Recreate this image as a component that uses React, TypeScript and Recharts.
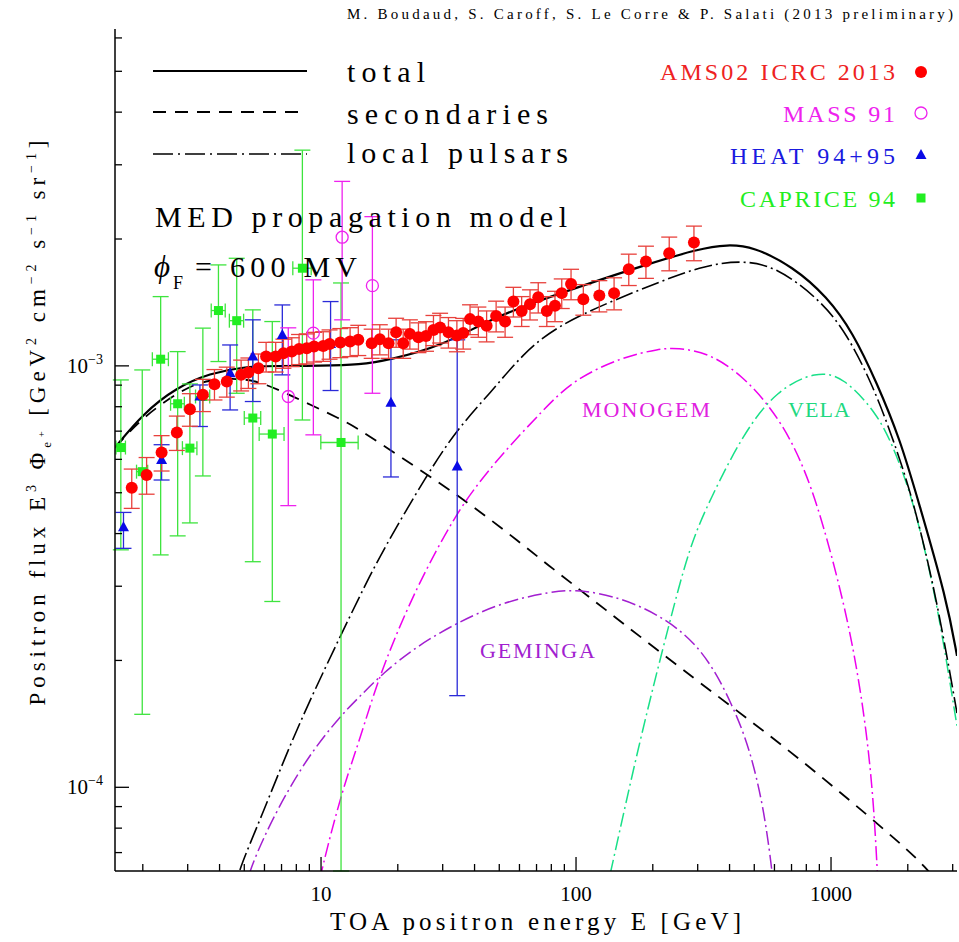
import { ComposedChart, Line, Scatter, XAxis, YAxis, ErrorBar } from "recharts";

const W = 959;
const H = 942;
const serif = "'Liberation Serif', 'Times New Roman', serif";

// axis ranges (GeV, GeV^2 cm^-2 s^-1 sr^-1)
const xDomain = [1.556, 3119];
const yDomain = [6.33e-5, 6.3e-3];
const xTicks = [2, 3, 4, 5, 6, 7, 8, 9, 10, 20, 30, 40, 50, 60, 70, 80, 90, 100, 200, 300, 400, 500, 600, 700, 800, 900, 1000, 2000, 3000];
const xMajor = [10, 100, 1000];
const yTicks = [7e-5, 8e-5, 9e-5, 1e-4, 2e-4, 3e-4, 4e-4, 5e-4, 6e-4, 7e-4, 8e-4, 9e-4, 1e-3, 2e-3, 3e-3, 4e-3, 5e-3, 6e-3];
const yMajor = [1e-4, 1e-3];
const yMajorExp = ["−4", "−3"];

// model curves
const totalE = [1.556, 2.0, 2.72, 3.67, 4.94, 6.72, 10, 14.2, 18.7, 29.3, 46, 72, 113, 178, 306, 391, 494, 709, 964, 1219, 1514, 1865, 2195, 2843, 3119];
const totalF = [6.4e-4, 7.7e-4, 8.9e-4, 9.6e-4, 9.95e-4, 1.0e-3, 1.0e-3, 1.005e-3, 1.035e-3, 1.11e-3, 1.29e-3, 1.43e-3, 1.57e-3, 1.72e-3, 1.9e-3, 1.94e-3, 1.92e-3, 1.72e-3, 1.46e-3, 1.2e-3, 9.1e-4, 6.7e-4, 4.8e-4, 2.79e-4, 2.05e-4];

const secE = [1.556, 2.0, 2.97, 3.67, 4.67, 5.77, 7.76, 12.2, 14.2, 20.4, 32.1, 50.3, 79, 120.5, 306, 560, 1021, 1865, 2370, 2700];
const secF = [6.39e-4, 7.58e-4, 8.93e-4, 9.26e-4, 9.35e-4, 9.18e-4, 8.46e-4, 7.44e-4, 7.05e-4, 6.09e-4, 5.08e-4, 4.16e-4, 3.34e-4, 2.74e-4, 1.767e-4, 1.346e-4, 1.006e-4, 7.38e-5, 6.44e-5, 5.8e-5];

const pulsE = [4.5, 4.74, 5.77, 7.78, 10.5, 14.2, 17.5, 26, 34, 46, 62.1, 84, 132, 207, 306, 440, 612, 906, 1152, 1466, 1755, 2102, 2600, 3119];
const pulsF = [5.5e-5, 6.33e-5, 8.37e-5, 1.32e-4, 1.95e-4, 2.85e-4, 3.66e-4, 5.51e-4, 7.05e-4, 8.61e-4, 1.072e-3, 1.24e-3, 1.41e-3, 1.571e-3, 1.72e-3, 1.784e-3, 1.72e-3, 1.434e-3, 1.196e-3, 8.93e-4, 6.68e-4, 4.81e-4, 2.8e-4, 1.5e-4];

const monoE = [9.5, 10, 12.2, 14.2, 17, 23.7, 34, 40.8, 50.3, 74.5, 97.5, 153, 213, 248, 335, 453, 577, 712, 879, 1117, 1260, 1380, 1466, 1519, 1540];
const monoF = [5.3e-5, 6.33e-5, 1.0e-4, 1.297e-4, 1.866e-4, 3.0e-4, 4.47e-4, 5.2e-4, 6.1e-4, 7.87e-4, 9.27e-4, 1.052e-3, 1.097e-3, 1.105e-3, 1.072e-3, 9.43e-4, 8.0e-4, 6.56e-4, 4.81e-4, 2.79e-4, 1.94e-4, 1.346e-4, 9.35e-5, 6.33e-5, 5.3e-5];

const gemE = [5.0, 5.19, 6.7, 9.06, 12.2, 14.2, 17.5, 23.7, 34, 50.3, 79, 107, 178, 306, 414, 481, 543, 585, 600];
const gemF = [5.5e-5, 6.33e-5, 8.86e-5, 1.206e-4, 1.5e-4, 1.643e-4, 1.867e-4, 2.16e-4, 2.454e-4, 2.736e-4, 2.915e-4, 2.954e-4, 2.74e-4, 2.22e-4, 1.556e-4, 1.228e-4, 9.0e-5, 6.49e-5, 5.5e-5];

const velaE = [130, 137, 178, 234, 280, 335, 453, 612, 879, 1117, 1514, 1755, 2102, 2597, 3070, 3119];
const velaF = [5.5e-5, 6.33e-5, 1.3e-4, 2.5e-4, 3.76e-4, 4.81e-4, 6.92e-4, 8.77e-4, 9.73e-4, 9.43e-4, 7.72e-4, 6.43e-4, 4.81e-4, 2.79e-4, 1.48e-4, 1.4e-4];

// AMS-02 ICRC 2013
const amsE = [1.81, 2.07, 2.37, 2.72, 3.06, 3.44, 3.82, 4.27, 4.86, 5.19, 5.68, 6.09, 6.64, 7.12, 7.68, 8.2, 8.79, 9.39, 10.2, 10.8, 11.9, 13.0, 14.0, 15.8, 17.0, 18.4, 19.7, 21.0, 22.3, 24.1, 25.8, 27.6, 29.3, 31.6, 34.1, 36.1, 38.4, 41.4, 44.6, 48.6, 52.7, 56.8, 61.2, 66.0, 71.1, 76.8, 82.7, 87.9, 95.6, 106.8, 123.4, 141, 161, 188, 232, 290];
const amsF = [5.14e-4, 5.51e-4, 6.23e-4, 6.95e-4, 7.89e-4, 8.54e-4, 9.05e-4, 9.18e-4, 9.52e-4, 9.64e-4, 9.87e-4, 1.052e-3, 1.052e-3, 1.072e-3, 1.081e-3, 1.097e-3, 1.101e-3, 1.111e-3, 1.115e-3, 1.127e-3, 1.136e-3, 1.142e-3, 1.153e-3, 1.132e-3, 1.157e-3, 1.132e-3, 1.202e-3, 1.132e-3, 1.191e-3, 1.17e-3, 1.178e-3, 1.217e-3, 1.233e-3, 1.202e-3, 1.18e-3, 1.196e-3, 1.291e-3, 1.274e-3, 1.245e-3, 1.314e-3, 1.274e-3, 1.421e-3, 1.35e-3, 1.4e-3, 1.455e-3, 1.35e-3, 1.388e-3, 1.488e-3, 1.565e-3, 1.439e-3, 1.468e-3, 1.488e-3, 1.696e-3, 1.768e-3, 1.851e-3, 1.961e-3];
const amsErr = [5.5e-5, 5.5e-5, 6e-5, 6.5e-5, 7e-5, 7.5e-5, 7.5e-5, 7.5e-5, 8e-5, 8e-5, 8e-5, 8.5e-5, 8.5e-5, 8.5e-5, 8.5e-5, 9e-5, 9e-5, 9e-5, 9e-5, 9e-5, 9e-5, 9e-5, 9.5e-5, 9e-5, 9.5e-5, 9e-5, 9.5e-5, 9e-5, 9.5e-5, 9.5e-5, 9.5e-5, 1e-4, 1e-4, 1e-4, 1e-4, 1e-4, 1.05e-4, 1.05e-4, 1.05e-4, 1.1e-4, 1.05e-4, 1.15e-4, 1.1e-4, 1.15e-4, 1.2e-4, 1.1e-4, 1.15e-4, 1.2e-4, 1.3e-4, 1.2e-4, 1.25e-4, 1.3e-4, 1.45e-4, 1.55e-4, 1.7e-4, 1.85e-4];

// MASS 91
const massE = [7.44, 9.33, 12.1, 15.9];
const massF = [8.46e-4, 1.196e-3, 2.02e-3, 1.55e-3];
const massLo = [4.66e-4, 6.86e-4, 1.286e-3, 8.61e-4];
const massHi = [1.231e-3, 1.6e-3, 2.74e-3, 2.26e-3];

// HEAT 94+95
const heatE = [1.68, 2.37, 3.35, 4.4, 5.4, 7.05, 10.9, 18.8, 34.2];
const heatF = [4.14e-4, 5.98e-4, 8.46e-4, 9.61e-4, 1.052e-3, 1.184e-3, 1.127e-3, 8.17e-4, 5.77e-4];
const heatLo = [3.69e-4, 5.36e-4, 7.18e-4, 7.86e-4, 8.23e-4, 9.52e-4, 8.74e-4, 5.45e-4, 1.65e-4];
const heatHi = [4.49e-4, 6.5e-4, 9.01e-4, 1.121e-3, 1.286e-3, 1.395e-3, 1.421e-3, 1.153e-3, 1.153e-3];

// CAPRICE 94
const capE = [1.64, 1.99, 2.35, 2.74, 3.06, 3.44, 3.96, 4.67, 5.4, 6.44, 8.45, 11.98];
const capF = [6.4e-4, 5.61e-4, 1.037e-3, 8.13e-4, 6.38e-4, 8.46e-4, 1.353e-3, 1.28e-3, 7.52e-4, 6.89e-4, 1.705e-3, 6.58e-4];
const capLo = [3.66e-4, 1.49e-4, 3.56e-4, 3.95e-4, 4.24e-4, 5.48e-4, 1.024e-3, 8.61e-4, 3.43e-4, 2.76e-4, 7.44e-4, 6.33e-5];
const capHi = [9.26e-4, 9.78e-4, 1.46e-3, 1.081e-3, 9.06e-4, 1.229e-3, 1.736e-3, 1.8e-3, 1.358e-3, 1.274e-3, 3.25e-3, 1.573e-3];
const capDE = [0.07, 0.1, 0.17, 0.17, 0.2, 0.22, 0.25, 0.3, 0.4, 0.72, 0.7, 2.0];

const curve = (E: number[], F: number[]) => E.map((e, i) => ({ E: e, F: F[i] }));
const amsRows = amsE.map((e, i) => ({ E: e, F: amsF[i], ey: amsErr[i] }));
const massRows = massE.map((e, i) => ({ E: e, F: massF[i], ey: [massF[i] - massLo[i], massHi[i] - massF[i]] }));
const heatRows = heatE.map((e, i) => ({ E: e, F: heatF[i], ey: [heatF[i] - heatLo[i], heatHi[i] - heatF[i]] }));
const capRows = capE.map((e, i) => ({ E: e, F: capF[i], ey: [capF[i] - capLo[i], capHi[i] - capF[i]], ex: capDE[i] }));

const RED = "#ff0000";
const MAG = "#ee22ee";
const BLUE = "#0a0ae6";
const GREEN = "#22ee22";

function BottomTick(p: any) {
  const v = p.payload.value;
  const major = xMajor.includes(v);
  return (
    <g>
      <line x1={p.x} x2={p.x} y1={p.y} y2={p.y - (major ? 14 : 7)} stroke="#000" strokeWidth={1.3} />
      {major && (
        <text x={p.x} y={p.y + 30} textAnchor="middle" fontSize={21} fontFamily={serif} fill="#000">
          {v}
        </text>
      )}
    </g>
  );
}

function TopTick(p: any) {
  const major = xMajor.includes(p.payload.value);
  return <line x1={p.x} x2={p.x} y1={p.y} y2={p.y + (major ? 14 : 7)} stroke="#000" strokeWidth={1.3} />;
}

function LeftTick(p: any) {
  const v = p.payload.value;
  const k = yMajor.indexOf(v);
  return (
    <g>
      <line x1={p.x} x2={p.x + (k >= 0 ? 14 : 7)} y1={p.y} y2={p.y} stroke="#000" strokeWidth={1.3} />
      {k >= 0 && (
        <text x={p.x - 12} y={p.y + 7} textAnchor="end" fontSize={21} fontFamily={serif} fill="#000">
          10<tspan dy={-9} fontSize={14}>{yMajorExp[k]}</tspan>
        </text>
      )}
    </g>
  );
}

function RightTick(p: any) {
  const major = yMajor.includes(p.payload.value);
  return <line x1={p.x} x2={p.x - (major ? 14 : 7)} y1={p.y} y2={p.y} stroke="#000" strokeWidth={1.3} />;
}

const dot = (fill: string) => (p: any) => <circle cx={p.cx} cy={p.cy} r={6} fill={fill} />;
const ring = (p: any) => <circle cx={p.cx} cy={p.cy} r={6} fill="none" stroke={MAG} strokeWidth={1.3} />;
const tri = (p: any) => (
  <polygon points={`${p.cx},${p.cy - 6} ${p.cx - 5.5},${p.cy + 4} ${p.cx + 5.5},${p.cy + 4}`} fill={BLUE} />
);
const sq = (p: any) => <rect x={p.cx - 4.5} y={p.cy - 4.5} width={9} height={9} fill={GREEN} />;

function Overlay() {
  const t = { fontFamily: serif, fill: "#000" };
  return (
    <svg width={W} height={H} style={{ position: "absolute", left: 0, top: 0, pointerEvents: "none" }}>
      <text x={953} y={19} textAnchor="end" fontSize={15} textLength={606} {...t}>
        M. Boudaud, S. Caroff, S. Le Corre &amp; P. Salati (2013 preliminary)
      </text>

      <line x1={153} x2={307} y1={71} y2={71} stroke="#000" strokeWidth={2} />
      <line x1={153} x2={307} y1={112} y2={112} stroke="#000" strokeWidth={1.8} strokeDasharray="13 9" />
      <line x1={153} x2={307} y1={154} y2={154} stroke="#000" strokeWidth={1.6} strokeDasharray="20 5 2 5" />
      <text x={347} y={82} fontSize={30} textLength={78} {...t}>total</text>
      <text x={347} y={124} fontSize={30} textLength={201} {...t}>secondaries</text>
      <text x={347} y={163} fontSize={30} textLength={221} {...t}>local pulsars</text>

      <text x={895} y={80} textAnchor="end" fontSize={24} textLength={235} fontFamily={serif} fill="#ee2222">AMS02 ICRC 2013</text>
      <text x={895} y={122} textAnchor="end" fontSize={24} textLength={112} fontFamily={serif} fill={MAG}>MASS 91</text>
      <text x={895} y={164} textAnchor="end" fontSize={24} textLength={165} fontFamily={serif} fill="#1a1ae0">HEAT 94+95</text>
      <text x={895} y={207} textAnchor="end" fontSize={24} textLength={155} fontFamily={serif} fill={GREEN}>CAPRICE 94</text>
      <circle cx={921} cy={72} r={6} fill={RED} />
      <circle cx={921} cy={113} r={6} fill="none" stroke={MAG} strokeWidth={1.3} />
      <polygon points="921,149 915.5,159 926.5,159" fill={BLUE} />
      <rect x={916.5} y={193.5} width={9} height={9} fill={GREEN} />

      <text x={155} y={227} fontSize={30} textLength={412} {...t}>MED propagation model</text>
      <text x={154} y={277} fontSize={31} fontStyle="italic" {...t}>ϕ</text>
      <text x={173} y={289} fontSize={18} {...t}>F</text>
      <text x={195} y={277} fontSize={30} textLength={162} {...t}>= 600 MV</text>

      <text x={582} y={417} fontSize={22} textLength={128} fontFamily={serif} fill="#e020e0">MONOGEM</text>
      <text x={788} y={417} fontSize={22} textLength={62} fontFamily={serif} fill="#20d880">VELA</text>
      <text x={480} y={658} fontSize={22} textLength={115} fontFamily={serif} fill="#a21fd0">GEMINGA</text>

      <text x={535.5} y={930} textAnchor="middle" fontSize={25} textLength={411} {...t}>
        TOA positron energy E  [GeV]
      </text>
      <text transform="translate(45,423) rotate(-90)" textAnchor="middle" fontSize={23} textLength={565} {...t}>
        Positron flux E<tspan dy={-9} fontSize={14}>3</tspan>
        <tspan dy={9}> Φ</tspan>
        <tspan dy={6} fontSize={13}>e</tspan>
        <tspan dy={-6} fontSize={10}>+</tspan>
        <tspan dy={0} fontSize={23}>  [GeV</tspan>
        <tspan dy={-9} fontSize={14}>2</tspan>
        <tspan dy={9} fontSize={23}> cm</tspan>
        <tspan dy={-9} fontSize={14}>−2</tspan>
        <tspan dy={9} fontSize={23}> s</tspan>
        <tspan dy={-9} fontSize={14}>−1</tspan>
        <tspan dy={9} fontSize={23}> sr</tspan>
        <tspan dy={-9} fontSize={14}>−1</tspan>
        <tspan dy={9} fontSize={23}>]</tspan>
      </text>
    </svg>
  );
}

export default function App() {
  return (
    <div style={{ position: "absolute", left: 0, top: 0, width: W, height: H, background: "#fff" }}>
      <ComposedChart width={W} height={H} margin={{ top: 29, right: 2, bottom: 0, left: 0 }}>
        <XAxis xAxisId="b" dataKey="E" type="number" scale="log" domain={xDomain} allowDataOverflow
          ticks={xTicks} interval={0} tickSize={0} tickMargin={0} height={71}
          axisLine={{ stroke: "#000", strokeWidth: 1.5 }} tickLine={false} tick={BottomTick} />
        <XAxis xAxisId="t" orientation="top" dataKey="E" type="number" scale="log" domain={xDomain} allowDataOverflow
          ticks={xTicks} interval={0} tickSize={0} tickMargin={0} height={0}
          axisLine={{ stroke: "#000", strokeWidth: 1.5 }} tickLine={false} tick={TopTick} />
        <YAxis yAxisId="l" dataKey="F" type="number" scale="log" domain={yDomain} allowDataOverflow
          ticks={yTicks} interval={0} tickSize={0} tickMargin={0} width={115}
          axisLine={{ stroke: "#000", strokeWidth: 1.5 }} tickLine={false} tick={LeftTick} />
        <YAxis yAxisId="r" orientation="right" dataKey="F" type="number" scale="log" domain={yDomain} allowDataOverflow
          ticks={yTicks} interval={0} tickSize={0} tickMargin={0} width={0}
          axisLine={{ stroke: "#000", strokeWidth: 1.5 }} tickLine={false} tick={RightTick} />

        <Line xAxisId="b" yAxisId="l" data={curve(secE, secF)} dataKey="F" type="basis" stroke="#000" strokeWidth={1.8} strokeDasharray="13 9" dot={false} isAnimationActive={false} />
        <Line xAxisId="b" yAxisId="l" data={curve(gemE, gemF)} dataKey="F" type="basis" stroke="#a21fd0" strokeWidth={1.5} strokeDasharray="14 4 2 4" dot={false} isAnimationActive={false} />
        <Line xAxisId="b" yAxisId="l" data={curve(monoE, monoF)} dataKey="F" type="basis" stroke="#ee00ee" strokeWidth={1.5} strokeDasharray="14 4 2 4" dot={false} isAnimationActive={false} />
        <Line xAxisId="b" yAxisId="l" data={curve(velaE, velaF)} dataKey="F" type="basis" stroke="#18e088" strokeWidth={1.5} strokeDasharray="14 4 2 4" dot={false} isAnimationActive={false} />
        <Line xAxisId="b" yAxisId="l" data={curve(pulsE, pulsF)} dataKey="F" type="basis" stroke="#000" strokeWidth={1.6} strokeDasharray="18 4 2 4" dot={false} isAnimationActive={false} />
        <Line xAxisId="b" yAxisId="l" data={curve(totalE, totalF)} dataKey="F" type="basis" stroke="#000" strokeWidth={2.2} dot={false} isAnimationActive={false} />

        <Scatter xAxisId="b" yAxisId="l" data={capRows} dataKey="F" shape={sq} isAnimationActive={false}>
          <ErrorBar dataKey="ey" direction="y" width={8} stroke="#3ee43e" strokeWidth={1.3} />
          <ErrorBar dataKey="ex" direction="x" width={7} stroke="#3ee43e" strokeWidth={1.3} />
        </Scatter>
        <Scatter xAxisId="b" yAxisId="l" data={heatRows} dataKey="F" shape={tri} isAnimationActive={false}>
          <ErrorBar dataKey="ey" direction="y" width={8} stroke="#2a2ad8" strokeWidth={1.3} />
        </Scatter>
        <Scatter xAxisId="b" yAxisId="l" data={massRows} dataKey="F" shape={ring} isAnimationActive={false}>
          <ErrorBar dataKey="ey" direction="y" width={8} stroke={MAG} strokeWidth={1.3} />
        </Scatter>
        <Scatter xAxisId="b" yAxisId="l" data={amsRows} dataKey="F" shape={dot(RED)} isAnimationActive={false}>
          <ErrorBar dataKey="ey" direction="y" width={8} stroke="#e8413c" strokeWidth={1.3} />
        </Scatter>
      </ComposedChart>
      <Overlay />
    </div>
  );
}
